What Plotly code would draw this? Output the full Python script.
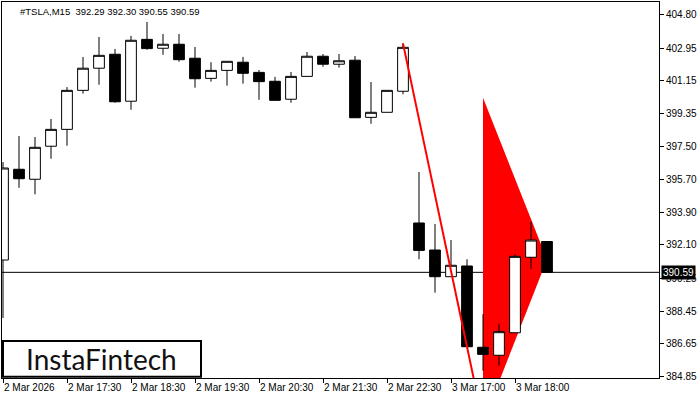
import plotly.graph_objects as go

# ---- data ----
bar_index = list(range(35))
opens  = [391.27, 396.27, 395.72, 397.54, 398.47, 400.62, 401.84, 402.61, 400.02, 403.43,
          402.94, 403.16, 402.39, 401.28, 401.72, 402.17, 401.61, 401.12, 400.13, 401.39,
          402.50, 402.06, 402.28, 399.13, 399.41, 400.57, 393.31, 391.82, 390.35, 390.94,
          386.46, 386.02, 387.26, 391.42, 392.29]
highs  = [396.67, 398.10, 398.05, 399.04, 400.80, 402.46, 403.56, 402.90, 403.62, 404.39,
          403.73, 403.73, 403.01, 402.17, 402.22, 402.46, 401.74, 401.36, 401.63, 402.73,
          402.62, 402.62, 402.51, 401.08, 400.62, 403.21, 396.12, 393.25, 392.37, 391.31,
          388.29, 387.76, 391.58, 393.38, 392.30]
lows   = [388.07, 395.25, 394.89, 396.85, 397.57, 400.44, 400.93, 399.94, 399.55, 402.86,
          402.58, 402.20, 400.77, 401.10, 400.88, 400.99, 400.10, 400.07, 399.94, 401.39,
          401.92, 401.87, 399.11, 398.78, 399.41, 400.40, 391.31, 389.47, 390.35, 386.49,
          385.17, 385.45, 387.26, 390.76, 390.55]
closes = [396.34, 395.75, 397.48, 398.47, 400.62, 401.84, 402.55, 399.99, 403.38, 402.92,
          403.16, 402.31, 401.26, 401.72, 402.22, 401.56, 401.10, 400.07, 401.39, 402.50,
          402.06, 402.25, 399.11, 399.41, 400.62, 402.99, 391.80, 390.35, 390.98, 386.49,
          386.07, 387.32, 391.47, 392.37, 390.59]

x_tick_pos = [0, 4, 8, 12, 16, 20, 24, 28, 32]
x_tick_labels = ["2 Mar 2026", "2 Mar 17:30", "2 Mar 18:30", "2 Mar 19:30", "2 Mar 20:30",
                 "2 Mar 21:30", "2 Mar 22:30", "3 Mar 17:00", "3 Mar 18:00"]
y_tick_vals = [404.80, 402.95, 401.15, 399.35, 397.50, 395.70, 393.90, 392.10, 390.25,
               388.45, 386.65, 384.85]

# pattern: flagpole and pennant
pole_x = [25, 30]
pole_y = [403.21, 382.31]
flag_x = [30, 34, 30]
flag_y = [400.21, 391.30, 382.31]

last_price = 390.59
title_text = "#TSLA,M15  392.29 392.30 390.55 390.59"

FONT = "Liberation Sans"

fig = go.Figure()

fig.add_trace(go.Candlestick(
    x=bar_index, open=opens, high=highs, low=lows, close=closes,
    increasing=dict(fillcolor="#ffffff", line=dict(color="#000000", width=1)),
    decreasing=dict(fillcolor="#000000", line=dict(color="#000000", width=1)),
    whiskerwidth=0))

fig.add_trace(go.Scatter(
    x=pole_x, y=pole_y, mode="lines",
    line=dict(color="#ff0000", width=2), hoverinfo="skip"))

# current price line (below the pennant)
fig.add_shape(type="line", xref="paper", x0=0, x1=1, yref="y", y0=last_price, y1=last_price,
              line=dict(color="#000000", width=1), layer="below")

# pennant as a data-referenced path, drawn beneath the candles
flag_path = "M " + " L ".join(f"{xv},{yv}" for xv, yv in zip(flag_x, flag_y)) + " Z"
fig.add_shape(type="path", xref="x", yref="y", path=flag_path,
              fillcolor="#ff0000", line=dict(color="#ff0000", width=0), layer="below")

# logo box
fig.add_shape(type="rect", xref="paper", yref="paper",
              x0=0.0015, x1=0.3029, y0=0.003, y1=0.0984,
              fillcolor="#ffffff", line=dict(color="#000000", width=2), layer="above")
fig.add_annotation(xref="paper", yref="paper", x=0.1522, y=0.05,
                   text="InstaFintech", showarrow=False,
                   font=dict(family="Lato", size=28, color="#111111"),
                   xanchor="center", yanchor="middle")

fig.add_annotation(xref="paper", yref="paper", x=0.024, y=0.976, text=title_text,
                   showarrow=False, xanchor="left", yanchor="middle",
                   font=dict(family=FONT, size=9.5, color="#000000"))

fig.add_annotation(xref="paper", yref="y", x=1, y=last_price, text="390.59",
                   showarrow=False, xanchor="left", yanchor="middle", xshift=2,
                   bgcolor="#000000", borderpad=1,
                   font=dict(family=FONT, size=10, color="#ffffff"))

fig.update_layout(
    width=700, height=400,
    margin=dict(l=2, r=41, t=2, b=22),
    paper_bgcolor="#ffffff", plot_bgcolor="#ffffff",
    showlegend=False,
    boxgap=0.33, boxgroupgap=0,
    font=dict(family=FONT, size=10, color="#000000"),
    xaxis=dict(range=[-0.0625, 41.0], rangeslider=dict(visible=False),
               tickvals=x_tick_pos, ticktext=x_tick_labels,
               ticks="outside", ticklen=4, tickcolor="#000000",
               ticklabelposition="outside right",
               showgrid=False, zeroline=False,
               showline=True, linecolor="#000000", linewidth=1, mirror=True,
               tickfont=dict(family=FONT, size=10, color="#000000")),
    yaxis=dict(range=[384.767, 405.489], side="right",
               tickvals=y_tick_vals, ticktext=[f"{v:.2f}" for v in y_tick_vals],
               ticks="outside", ticklen=4, tickcolor="#000000",
               showgrid=False, zeroline=False,
               showline=True, linecolor="#000000", linewidth=1, mirror=True,
               tickfont=dict(family=FONT, size=10, color="#000000")),
)

fig.write_html("out.html",
               config={"displayModeBar": False},
               post_script="document.body.style.margin='0';document.body.style.overflow='hidden';")
